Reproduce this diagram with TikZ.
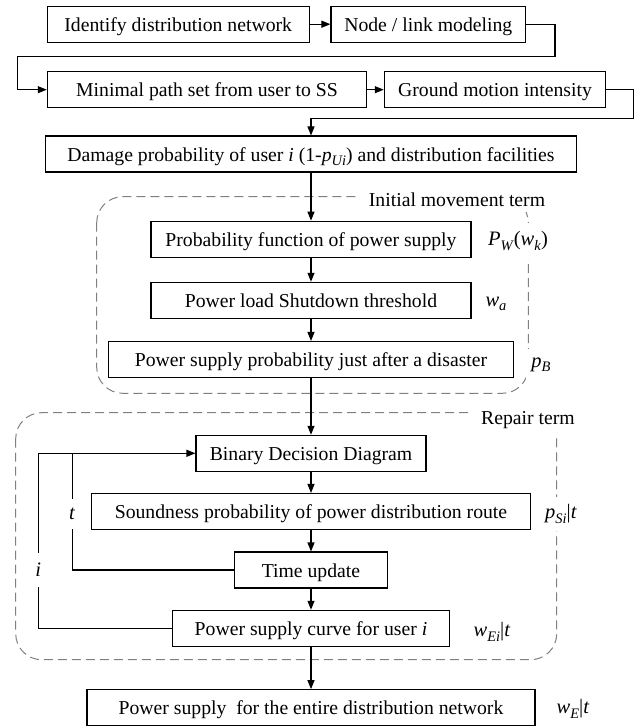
\documentclass[tikz,border=0pt]{standalone}
\usepackage{fontspec}
\setmainfont{Liberation Serif}
\usepackage{tikz}
\usetikzlibrary{arrows.meta, positioning, calc}
\definecolor{dashgray}{RGB}{128, 128, 128}
\newcommand{\ssub}[1]{\raisebox{-0.45ex}{\fontsize{14.5}{14.5}\selectfont\textit{#1}}}

\begin{document}
\begin{tikzpicture}[x=1pt, y=-1pt,
        box/.style={draw, rectangle, line width=1.1pt, minimum height=36pt, inner sep=0pt, text height=14.5pt, text depth=0pt, font=\fontsize{19.7}{22}\selectfont},
        lab/.style={fill=white, inner sep=5pt, font=\fontsize{20.5}{22}\selectfont},
        arr/.style={-{Triangle[length=9pt, width=7pt]}, line width=1.1pt},
        link/.style={line width=1.1pt},
        group/.style={draw=dashgray, line width=1pt, dash pattern=on 9pt off 5pt, rounded corners=26pt}]
        \useasboundingbox (0,0) rectangle (635,727);

        % Dashed groups
        \draw[group] (96.7,196.7) rectangle (528.3,393.3);
        \draw[group] (15.7,412.7) rectangle (556.7,659.7);

        % Nodes
        \node[box, minimum width=261.7pt] (n1) at (178.2,24.2) {Identify distribution network};
        \node[box, minimum width=194.7pt] (n2) at (428.3,24.2) {Node / link modeling};
        \node[box, minimum width=319.4pt] (n3) at (207,89.7) {Minimal path set from user to SS};
        \node[box, minimum width=221.4pt] (n4) at (495,89.7) {Ground motion intensity};
        \node[box, minimum width=531pt] (n5) at (311,154) {Damage probability of user \textit{i} (1-\textit{p}\ssub{Ui}) and distribution facilities};
        \node[box, minimum width=320pt] (n6) at (311,239.2) {Probability function of power supply};
        \node[box, minimum width=320pt] (n7) at (311,300.3) {Power load Shutdown threshold};
        \node[box, minimum width=404.3pt] (n8) at (311,359.5) {Power supply probability just after a disaster};
        \node[box, minimum width=230pt] (n9) at (311,453.3) {Binary Decision Diagram};
        \node[box, minimum width=439.4pt] (n10) at (311,511.5) {Soundness probability of power distribution route};
        \node[box, minimum width=153.7pt] (n11) at (311,570) {Time update};
        \node[box, minimum width=277.4pt] (n12) at (311,628.3) {Power supply curve for user \textit{i}};
        \node[box, minimum width=448pt] (n13) at (311,707.7) {Power supply~ for the entire distribution network};

        % Bends
        \coordinate (c1) at (555,56.7);
        \coordinate (c2) at (17.3,56.7);
        \coordinate (c3) at (633.5,118.3);
        \coordinate (tj) at (72.3,453.3);
        \coordinate (ij) at (38.3,453.3);

        % Arrows
        \draw[arr] (n1) -- (n2);
        \draw[arr] (n2.east) -| (c1) -- (c2) |- (n3.west);
        \draw[arr] (n3) -- (n4);
        \draw[arr] (n4.east) -| (c3) -| (n5.north);
        \draw[arr] (n5) -- (n6);
        \draw[arr] (n6) -- (n7);
        \draw[arr] (n7) -- (n8);
        \draw[arr] (n8) -- (n9);
        \draw[arr] (n9) -- (n10);
        \draw[arr] (n10) -- (n11);
        \draw[arr] (n11) -- (n12);
        \draw[arr] (n12) -- (n13);
        \draw[arr] (n12.west) -| (ij) -- (n9.west);
        \draw[link] (n11.west) -| (tj);

        % Labels
        \node[lab, inner xsep=12pt, font=\fontsize{19.7}{22}\selectfont] (initlab) at (457,200) {Initial movement term};
        \node[lab, inner xsep=12pt, font=\fontsize{19.7}{22}\selectfont] (replab) at (528,420) {Repair term};
        \node[lab, inner ysep=9pt] (pwlab) at (518,241) {\textit{P}\ssub{W}(\textit{w}\ssub{k})};
        \node[lab] (walab) at (496,304) {\textit{w}\ssub{a}};
        \node[lab, inner ysep=9pt] (pblab) at (541,365) {\textit{p}\ssub{B}};
        \node[lab, inner ysep=8pt] (psilab) at (561,514) {\textit{p}\ssub{Si}|\textit{t}};
        \node[lab] (weilab) at (492,632) {\textit{w}\ssub{Ei}|\textit{t}};
        \node[lab] (welab) at (573,709) {\textit{w}\ssub{E}|\textit{t}};
        \node[lab, inner ysep=9pt] (tlab) at (72.3,514) {\textit{t}};
        \node[lab, inner ysep=10pt] (ilab) at (38.3,570) {\textit{i}};
    \end{tikzpicture}
\end{document}
